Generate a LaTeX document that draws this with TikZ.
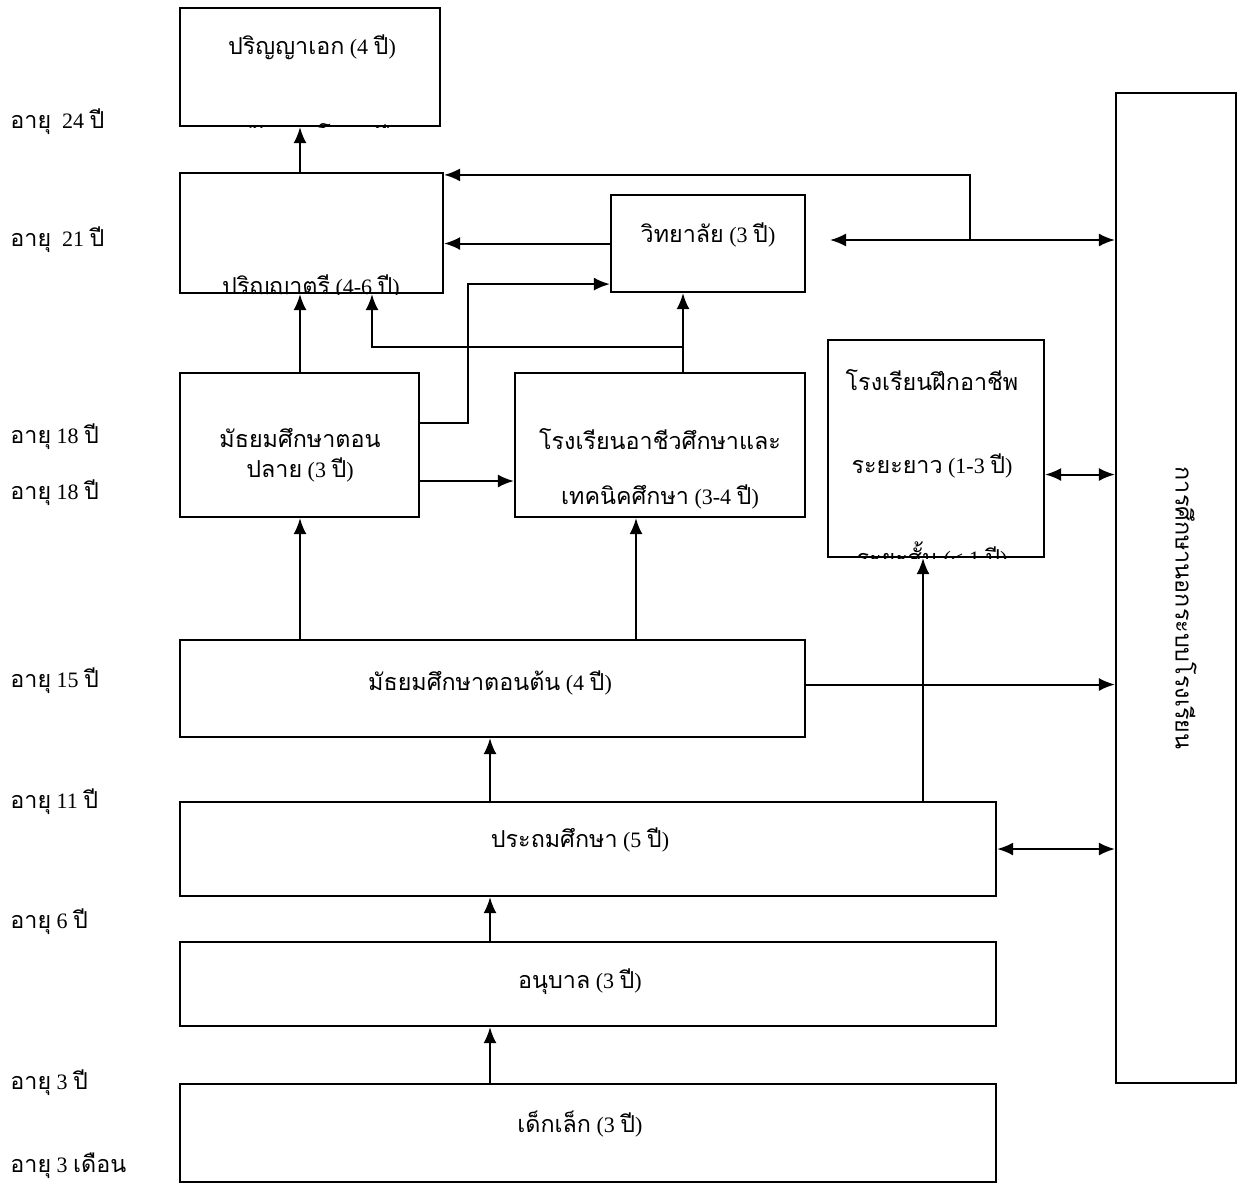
\documentclass[tikz,border=0pt]{standalone}
\usepackage{fontspec}
\setmainfont{Liberation Serif}
\newfontfamily\tf[Script=Thai, Scale=1.06]{Loma}
\usetikzlibrary{arrows.meta, fit}

\tikzset{
  box/.style={draw, line width=1.1pt, inner sep=0pt},
  txt/.style={font=\fontsize{11}{13}\selectfont, inner sep=0pt},
  age/.style={font=\fontsize{11}{13}\selectfont, inner sep=0pt, anchor=west},
  arr/.style={->, line width=1pt, >={Latex[length=8pt, width=6.5pt]}},
  arrr/.style={<->, line width=1pt, >={Latex[length=8pt, width=6.5pt]}}
}

\begin{document}
\begin{tikzpicture}[x=0.5pt, y=-0.5pt]
    \useasboundingbox (0,0) rectangle (1240,1184);

    % boxes
    \node[box, fit={(180,8) (440,126)}] (phd) {};
    \node[box, fit={(180,173) (443,293)}] (bach) {};
    \node[box, fit={(611,195) (805,292)}] (college) {};
    \node[box, fit={(180,373) (419,517)}] (upper) {};
    \node[box, fit={(515,373) (805,517)}] (voc) {};
    \node[box, fit={(828,340) (1044,557)}] (train) {};
    \node[box, fit={(180,640) (805,737)}] (lower) {};
    \node[box, fit={(180,802) (996,896)}] (primary) {};
    \node[box, fit={(180,942) (996,1026)}] (kinder) {};
    \node[box, fit={(180,1084) (996,1182)}] (infant) {};
    \node[box, fit={(1116,93) (1236,1083)}] (nfe) {};

    % texts
    \node[txt] (phdt) at (312,47) {{\tf ปริญญาเอก} (4 {\tf ปี})};
    \node[txt] (collegt) at (708,235) {{\tf วิทยาลัย} (3 {\tf ปี})};
    \node[txt] (uppert1) at (300,438) {\tf มัธยมศึกษาตอน};
    \node[txt] (uppert2) at (300,470) {{\tf ปลาย} (3 {\tf ปี})};
    \node[txt] (voct1) at (660,439) {\tf โรงเรียนอาชีวศึกษาและ};
    \node[txt] (voct2) at (660,497) {{\tf เทคนิคศึกษา} (3-4 {\tf ปี})};
    \node[txt] (traint1) at (932,380) {\tf โรงเรียนฝึกอาชีพ};
    \node[txt] (traint2) at (932,466) {{\tf ระยะยาว} (1-3 {\tf ปี})};
    \node[txt] (lowert) at (490,683) {{\tf มัธยมศึกษาตอนต้น} (4 {\tf ปี})};
    \node[txt] (primaryt) at (580,840) {{\tf ประถมศึกษา} (5 {\tf ปี})};
    \node[txt] (kindert) at (580,982) {{\tf อนุบาล} (3 {\tf ปี})};
    \node[txt] (infantt) at (580,1124) {{\tf เด็กเล็ก} (3 {\tf ปี})};
    \node[txt, rotate=-90] (nfet) at (1186,608) {\tf การศึกษานอกระบบโรงเรียน};

    % lines cut by the box edge
    \begin{scope}
      \clip (phd.south west) rectangle (phd.north east);
      \node[txt] (mastert) at (318,137) {{\tf ปริญญาโท} (2 {\tf ปี})};
    \end{scope}
    \begin{scope}
      \clip (bach.south west) rectangle (bach.north east);
      \node[txt] (bacht) at (311,287) {{\tf ปริญญาตรี} (4-6 {\tf ปี})};
    \end{scope}
    \begin{scope}
      \clip (train.south west) rectangle (train.north east);
      \node[txt] (traint3) at (932,556) {{\tf ระยะสั้น} (< 1 {\tf ปี})};
    \end{scope}

    % ages
    \node[age] (a24) at (10,122) {{\tf อายุ}~ 24 {\tf ปี}};
    \node[age] (a21) at (10,240) {{\tf อายุ}~ 21 {\tf ปี}};
    \node[age] (a18) at (10,437) {{\tf อายุ} 18 {\tf ปี}};
    \node[age] (a18b) at (10,493) {{\tf อายุ} 18 {\tf ปี}};
    \node[age] (a15) at (10,681) {{\tf อายุ} 15 {\tf ปี}};
    \node[age] (a11) at (10,802) {{\tf อายุ} 11 {\tf ปี}};
    \node[age] (a6) at (10,922) {{\tf อายุ} 6 {\tf ปี}};
    \node[age] (a3) at (10,1083) {{\tf อายุ} 3 {\tf ปี}};
    \node[age] (a0) at (10,1166) {{\tf อายุ} 3 {\tf เดือน}};

    \coordinate (xa) at (300,0);
    \coordinate (xb) at (372,0);
    \coordinate (xc) at (683,0);
    \coordinate (xd) at (636,0);
    \coordinate (xe) at (923,0);
    \coordinate (xf) at (490,0);
    \coordinate (xh) at (468,0);
    \coordinate (j1) at (970,240);
    \coordinate (j2) at (683,347);
    \coordinate (d1) at (830,240);

    \draw[arr] (xa |- bach.north) -- (xa |- phd.south);
    \draw[arr] (j1) |- ([yshift=-1.5pt]bach.north east);
    \draw[arrr] (d1) -- (d1 -| nfe.west);
    \draw[arr] (college.west) -- (college.west -| bach.east);
    \draw[arr] ([yshift=11pt]upper.east) -- ([yshift=11pt]upper.east -| xh) |- ([yshift=4.5pt]college.south west);
    \draw[arr] (xa |- upper.north) -- (xa |- bach.south);
    \draw[arr] (xc |- voc.north) -- (xc |- college.south);
    \draw[arr] (j2) -| (xb |- bach.south);
    \draw[arr] ([yshift=-18pt]upper.east) -- ([yshift=-18pt]upper.east -| voc.west);
    \draw[arr] (xa |- lower.north) -- (xa |- upper.south);
    \draw[arr] (xd |- lower.north) -- (xd |- voc.south);
    \draw[arr] (xe |- primary.north) -- (xe |- train.south);
    \draw[arrr] ([yshift=-13pt]train.east) -- ([yshift=-13pt]train.east -| nfe.west);
    \draw[arr] ([yshift=2pt]lower.east) -- ([yshift=2pt]lower.east -| nfe.west);
    \draw[arrr] (primary.east) -- (primary.east -| nfe.west);
    \draw[arr] (xf |- primary.north) -- (xf |- lower.south);
    \draw[arr] (xf |- kinder.north) -- (xf |- primary.south);
    \draw[arr] (xf |- infant.north) -- (xf |- kinder.south);
  \end{tikzpicture}
\end{document}
